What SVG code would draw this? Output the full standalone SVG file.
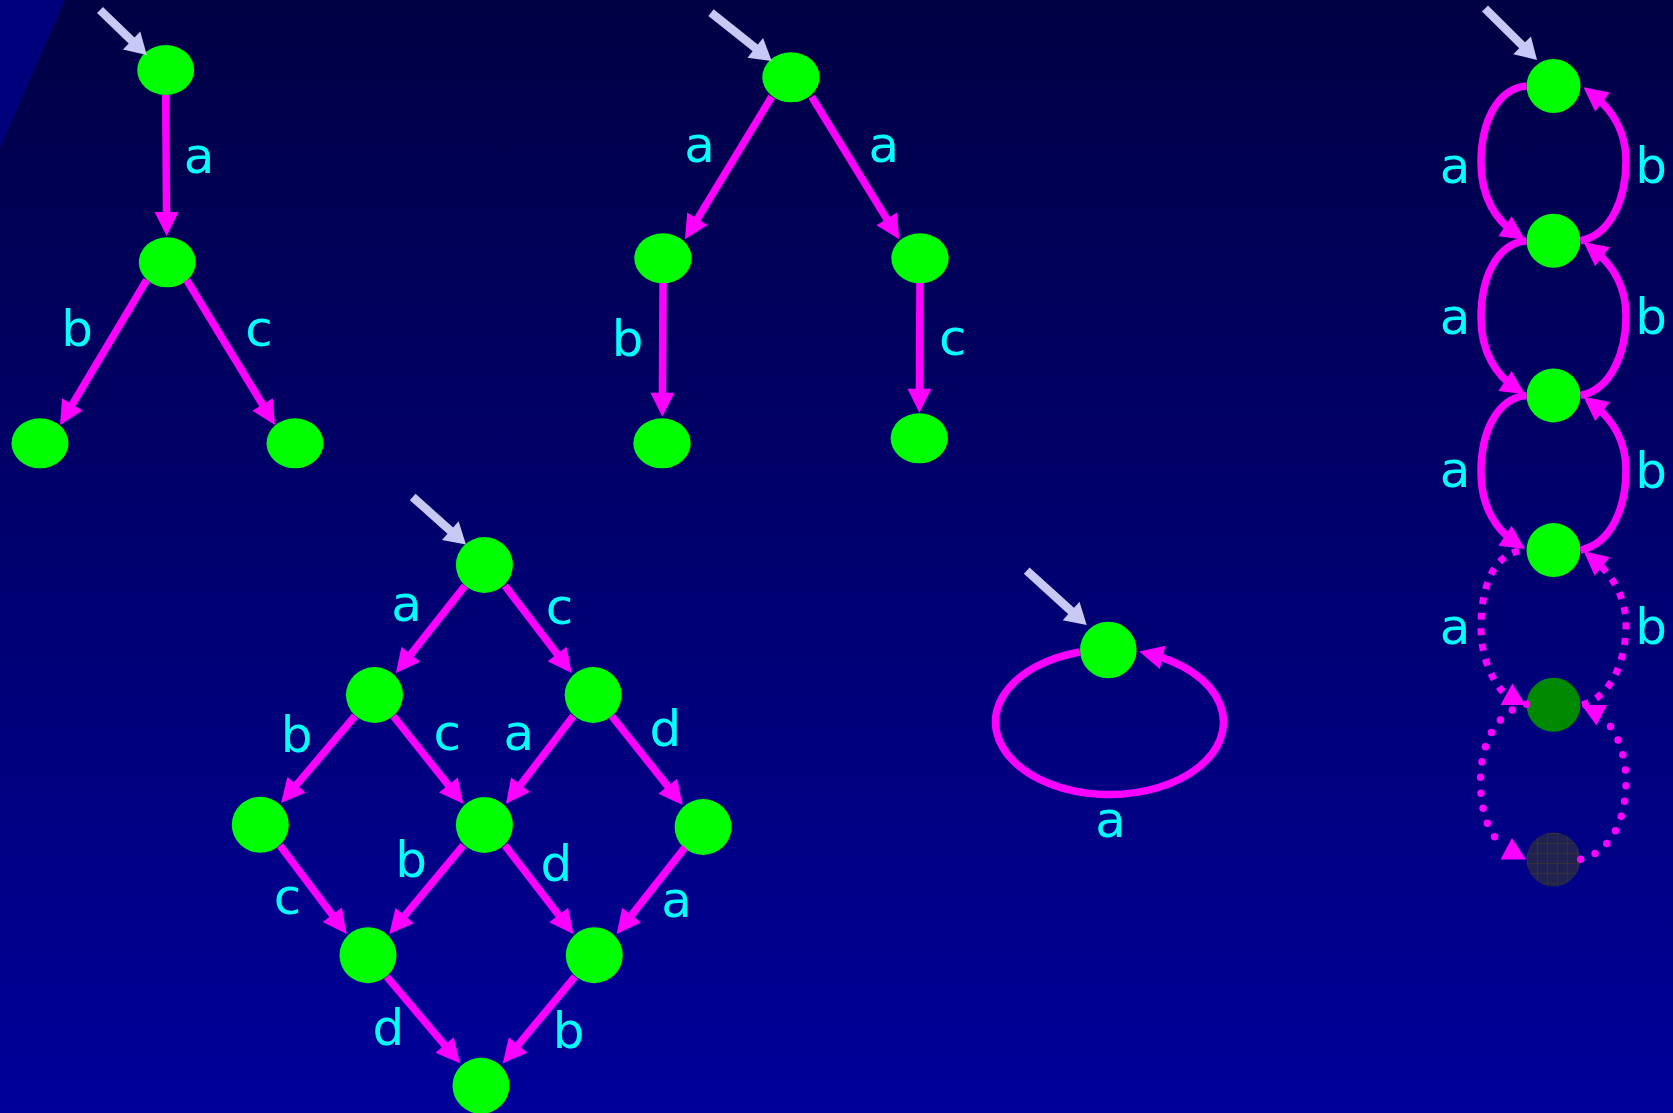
<svg xmlns="http://www.w3.org/2000/svg" width="1673" height="1113" viewBox="0 0 1673 1113">
<defs>
<linearGradient id="bg" x1="0" y1="0" x2="0" y2="1">
<stop offset="0" stop-color="#000044"/>
<stop offset="1" stop-color="#00009a"/>
</linearGradient>
<pattern id="grid" width="10" height="10" patternUnits="userSpaceOnUse" x="1527" y="833">
<rect width="10" height="10" fill="#222250"/>
<path d="M0,0 H10 M0,0 V10" stroke="#433c1c" stroke-width="1.1" fill="none"/>
</pattern>
<marker id="mh" markerUnits="userSpaceOnUse" markerWidth="24" markerHeight="24" refX="12" refY="12" orient="auto" overflow="visible">
<path d="M0,0 L24,12 L0,24 z" fill="#ff00ff"/>
</marker>
<marker id="eh" markerUnits="userSpaceOnUse" markerWidth="21" markerHeight="25" refX="9" refY="12.5" orient="auto" overflow="visible">
<path d="M0,0 L21,12.5 L0,25 z" fill="#c8c8f5"/>
</marker>
<style>
.n{fill:#00ff00}
.e{stroke:#ff00ff;stroke-width:7.5;fill:none;marker-end:url(#mh)}
.sq{stroke:#ff00ff;stroke-width:7;fill:none;stroke-dasharray:7 8.5}
.rd{stroke:#ff00ff;stroke-width:7.5;fill:none;stroke-dasharray:0 15.5;stroke-linecap:round}
.en{stroke:#c8c8f5;stroke-width:8.5;fill:none;marker-end:url(#eh)}
.t{fill:#00ffff;font-family:'DejaVu Sans',sans-serif;font-size:50px;text-anchor:middle}
.tri{fill:#ff00ff}
</style>
</defs>
<rect width="1673" height="1113" fill="url(#bg)"/>
<polygon points="0,0 65,0 0,148" fill="#00007c"/>

<g id="nodes">
<g id="g1n1"><ellipse class="n" cx="165.7" cy="70" rx="28.5" ry="25"/></g>
<g id="g1n2"><ellipse class="n" cx="167.3" cy="262.3" rx="28.5" ry="25"/></g>
<g id="g1n3"><ellipse class="n" cx="40" cy="443.3" rx="28.5" ry="25"/></g>
<g id="g1n4"><ellipse class="n" cx="295" cy="443.3" rx="28.5" ry="25"/></g>

<g id="g2n1"><ellipse class="n" cx="791" cy="77.3" rx="28.7" ry="25"/></g>
<g id="g2n2"><ellipse class="n" cx="663" cy="258.3" rx="28.7" ry="25"/></g>
<g id="g2n3"><ellipse class="n" cx="920" cy="258.3" rx="28.7" ry="25"/></g>
<g id="g2n4"><ellipse class="n" cx="662" cy="443.3" rx="28.7" ry="25"/></g>
<g id="g2n5"><ellipse class="n" cx="919.3" cy="438.3" rx="28.7" ry="25"/></g>

<g id="d1"><ellipse class="n" cx="484.4" cy="565" rx="28.5" ry="28"/></g>
<g id="d2"><ellipse class="n" cx="374.5" cy="695" rx="28.5" ry="28"/></g>
<g id="d3"><ellipse class="n" cx="593.2" cy="695" rx="28.5" ry="28"/></g>
<g id="d4"><ellipse class="n" cx="260.3" cy="824.8" rx="28.5" ry="28"/></g>
<g id="d5"><ellipse class="n" cx="484.4" cy="825" rx="28.5" ry="28"/></g>
<g id="d6"><ellipse class="n" cx="703.1" cy="827" rx="28.5" ry="28"/></g>
<g id="d7"><ellipse class="n" cx="368" cy="955.2" rx="28.5" ry="28"/></g>
<g id="d8"><ellipse class="n" cx="594.3" cy="955.2" rx="28.5" ry="28"/></g>
<g id="d9"><ellipse class="n" cx="481" cy="1085.8" rx="28.5" ry="28"/></g>

<g id="l1"><circle class="n" cx="1108.3" cy="650" r="28.3"/></g>

<g id="c1"><circle class="n" cx="1553.5" cy="86" r="27"/></g>
<g id="c2"><circle class="n" cx="1553.5" cy="240.7" r="27"/></g>
<g id="c3"><circle class="n" cx="1553.5" cy="395.4" r="27"/></g>
<g id="c4"><circle class="n" cx="1553.5" cy="550.1" r="27"/></g>
<g id="c5"><circle cx="1553.5" cy="704.8" r="27" fill="#008800"/></g>
<g id="c6"><circle cx="1553.5" cy="859.5" r="27" fill="url(#grid)"/></g>
</g>

<g id="connectors">
<line class="en" x1="100" y1="10" x2="138.1" y2="46.7"/>
<line class="en" x1="711" y1="12.7" x2="762.3" y2="53.5"/>
<line class="en" x1="412.7" y1="497" x2="457" y2="536.6"/>
<line class="en" x1="1026.7" y1="570.7" x2="1077.8" y2="617"/>
<line class="en" x1="1485" y1="8.5" x2="1528.5" y2="51.6"/>

<line class="e" x1="165.7" y1="95" x2="166.6" y2="224"/>
<line class="e" x1="146.7" y1="280" x2="66.2" y2="414.7"/>
<line class="e" x1="186.7" y1="280" x2="268.8" y2="414.8"/>

<line class="e" x1="771.7" y1="96.7" x2="691.2" y2="229.1"/>
<line class="e" x1="811.7" y1="96.7" x2="893" y2="229.1"/>
<line class="e" x1="663" y1="283" x2="662.4" y2="404.7"/>
<line class="e" x1="920" y1="283" x2="919.4" y2="400.7"/>

<line class="e" x1="465" y1="585.8" x2="403.4" y2="663.6"/>
<line class="e" x1="505" y1="585.8" x2="564.4" y2="663.5"/>
<line class="e" x1="355" y1="716" x2="288.8" y2="793.9"/>
<line class="e" x1="393.3" y1="716" x2="455.8" y2="794.4"/>
<line class="e" x1="573.3" y1="716" x2="513.3" y2="794.3"/>
<line class="e" x1="611.7" y1="716" x2="675.2" y2="795.6"/>
<line class="e" x1="280" y1="845.4" x2="339.5" y2="924.4"/>
<line class="e" x1="463.3" y1="845.4" x2="397" y2="924.8"/>
<line class="e" x1="505" y1="845.4" x2="566" y2="924.5"/>
<line class="e" x1="685" y1="847.4" x2="624.1" y2="924.6"/>
<line class="e" x1="386.7" y1="976.6" x2="452.3" y2="1054.2"/>
<line class="e" x1="575" y1="976.6" x2="510.4" y2="1054.2"/>

<path class="e" d="M1080,652 A114,72.5 0 1 0 1151,654.5"/>

<path class="e" d="M1526.5,86 C1496,89 1481,124 1481,163 C1481,198 1497,221 1515,233"/>
<path class="e" d="M1526.5,240.7 C1496,243.7 1481,278.7 1481,317.7 C1481,352.7 1497,375.7 1515,387.7"/>
<path class="e" d="M1526.5,395.4 C1496,398.4 1481,433.4 1481,472.4 C1481,507.4 1497,530.4 1515,542.4"/>
<path class="e" d="M1580.5,240.7 C1611,234.7 1626,198.7 1626,160.7 C1626,130.7 1611,108.7 1593,94.7"/>
<path class="e" d="M1580.5,395.4 C1611,389.4 1626,353.4 1626,315.4 C1626,285.4 1611,263.4 1593,249.4"/>
<path class="e" d="M1580.5,550.1 C1611,544.1 1626,508.1 1626,470.1 C1626,440.1 1611,418.1 1593,404.1"/>

<path class="sq" d="M1519,551 C1492,556 1481,590 1481,627 C1481,655 1490,677 1503,692"/>
<path class="sq" d="M1582,704.8 C1612,696.8 1626,659.8 1626,624.8 C1626,594.8 1610,572.8 1593,558.8" style="marker-end:url(#mh)"/>
<polygon class="tri" points="1512.3,683.5 1500.5,705 1525.5,705"/>

<path class="rd" d="M1526.7,704.3 C1495,712 1480.5,745 1480.5,781 C1480.5,810 1488,832 1500,843"/>
<path class="rd" d="M1580.7,859.3 C1612,852 1626,818 1626,782 C1626,755 1618,735 1607,722"/>
<polygon class="tri" points="1512,838 1500.5,859.5 1526,859.5"/>
<polygon class="tri" points="1581.5,705 1607,705 1596.5,725.5"/>
</g>

<g id="labels">
<text class="t" x="199" y="173">a</text>
<text class="t" x="77" y="346">b</text>
<text class="t" x="259" y="346">c</text>

<text class="t" x="699.5" y="161.7">a</text>
<text class="t" x="883.8" y="161.7">a</text>
<text class="t" x="627.5" y="356">b</text>
<text class="t" x="952.8" y="355">c</text>

<text class="t" x="406.6" y="621">a</text>
<text class="t" x="559.5" y="624">c</text>
<text class="t" x="296.6" y="752">b</text>
<text class="t" x="447.3" y="750">c</text>
<text class="t" x="518.7" y="750">a</text>
<text class="t" x="665.4" y="746">d</text>
<text class="t" x="411.2" y="877">b</text>
<text class="t" x="556.3" y="881">d</text>
<text class="t" x="287.6" y="914">c</text>
<text class="t" x="676.5" y="917">a</text>
<text class="t" x="388.4" y="1044.5">d</text>
<text class="t" x="568.5" y="1048">b</text>

<text class="t" x="1110.5" y="837">a</text>

<text class="t" x="1455" y="183">a</text>
<text class="t" x="1455" y="334">a</text>
<text class="t" x="1455" y="487">a</text>
<text class="t" x="1455" y="644">a</text>
<text class="t" x="1651" y="183">b</text>
<text class="t" x="1651" y="334">b</text>
<text class="t" x="1651" y="488">b</text>
<text class="t" x="1651" y="644">b</text>
</g>
</svg>
